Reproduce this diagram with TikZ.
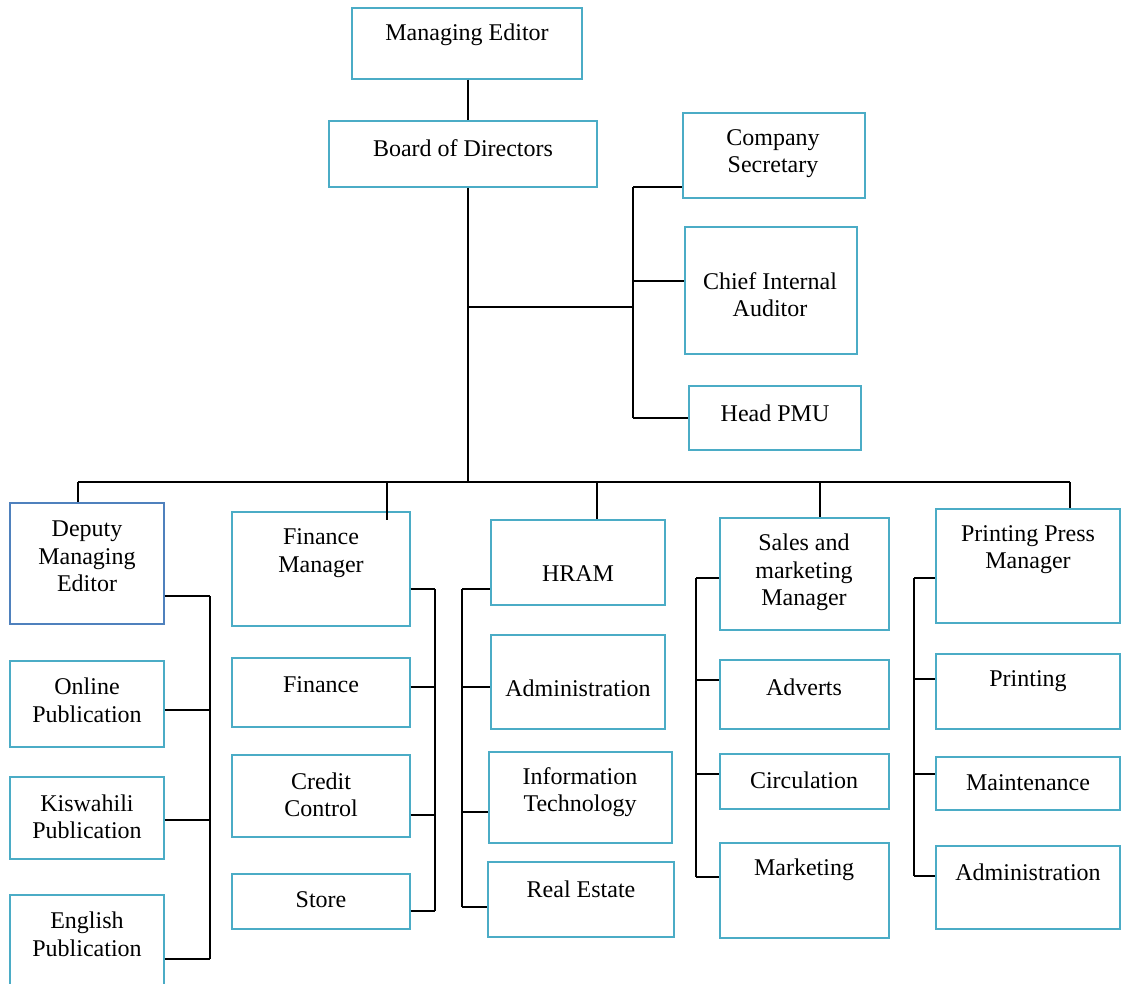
\documentclass[tikz,border=0pt]{standalone}
\usepackage{fontspec}
\setmainfont{Liberation Serif}
\definecolor{boxblue}{RGB}{75,172,198}
\definecolor{deepblue}{RGB}{79,129,189}
\tikzset{
  x=1pt,y=-1pt,
  bx/.style={draw=boxblue,line width=1.3pt,inner sep=0pt,fill=white},
  dbx/.style={bx,draw=deepblue},
  txt/.style={align=center,inner sep=0pt,font=\fontsize{24}{27.5}\selectfont},
  conn/.style={draw=black,line width=1.7pt}
}
\begin{document}
\begin{tikzpicture}
\clip (0,0) rectangle (1121,984);
\fill[white] (0,0) rectangle (1121,984);
% ---- boxes
\node[bx,minimum width=230pt,minimum height=71pt] (me) at (467,43.5) {};
\node[bx,minimum width=268pt,minimum height=66pt] (bod) at (463,154) {};
\node[bx,minimum width=182pt,minimum height=85pt] (cs) at (774,155.5) {};
\node[bx,minimum width=172pt,minimum height=127pt] (cia) at (771,290.5) {};
\node[bx,minimum width=172pt,minimum height=64pt] (pmu) at (775,418) {};
\node[dbx,minimum width=154pt,minimum height=121pt] (dme) at (87,563.5) {};
\node[bx,minimum width=154pt,minimum height=86pt] (onl) at (87,704) {};
\node[bx,minimum width=154pt,minimum height=82pt] (kis) at (87,818) {};
\node[bx,minimum width=154pt,minimum height=110pt] (eng) at (87,950) {};
\node[bx,minimum width=178pt,minimum height=114pt] (fm) at (321,569) {};
\node[bx,minimum width=178pt,minimum height=69pt] (fin) at (321,692.5) {};
\node[bx,minimum width=178pt,minimum height=82pt] (cc) at (321,796) {};
\node[bx,minimum width=178pt,minimum height=55pt] (st) at (321,901.5) {};
\node[bx,minimum width=174pt,minimum height=85pt] (hr) at (578,562.5) {};
\node[bx,minimum width=174pt,minimum height=94pt] (adm) at (578,682) {};
\node[bx,minimum width=183pt,minimum height=91pt] (it) at (580.5,797.5) {};
\node[bx,minimum width=186pt,minimum height=75pt] (re) at (581,899.5) {};
\node[bx,minimum width=169pt,minimum height=112pt] (smm) at (804.5,574) {};
\node[bx,minimum width=169pt,minimum height=69pt] (adv) at (804.5,694.5) {};
\node[bx,minimum width=169pt,minimum height=55pt] (cir) at (804.5,781.5) {};
\node[bx,minimum width=169pt,minimum height=95pt] (mkt) at (804.5,890.5) {};
\node[bx,minimum width=184pt,minimum height=114pt] (ppm) at (1028,566) {};
\node[bx,minimum width=184pt,minimum height=75pt] (prt) at (1028,691.5) {};
\node[bx,minimum width=184pt,minimum height=53pt] (mnt) at (1028,783.5) {};
\node[bx,minimum width=184pt,minimum height=83pt] (adm2) at (1028,887.5) {};
% ---- texts
\node[txt] (me-t) at (467,35) {Managing Editor};
\node[txt] (bod-t) at (463,148) {Board of Directors};
\node[txt] (cs-t) at (773,153.5) {Company\\Secretary};
\node[txt] (cia-t) at (770,294.5) {Chief Internal\\Auditor};
\node[txt] (pmu-t) at (775,413) {Head PMU};
\node[txt] (dme-t) at (87,556.5) {Deputy\\Managing\\Editor};
\node[txt] (onl-t) at (87,700.5) {Online\\Publication};
\node[txt] (kis-t) at (87,817) {Kiswahili\\Publication};
\node[txt] (eng-t) at (87,934.5) {English\\Publication};
\node[txt] (fm-t) at (321,553) {Finance\\Manager};
\node[txt] (fin-t) at (321,685) {Finance};
\node[txt] (cc-t) at (321,795) {Credit\\Control};
\node[txt] (st-t) at (321,900) {Store};
\node[txt] (hr-t) at (578,574) {HRAM};
\node[txt] (adm-t) at (578,688) {Administration};
\node[txt] (it-t) at (580,792) {Information\\Technology};
\node[txt] (re-t) at (581,889) {Real Estate};
\node[txt] (smm-t) at (804,572.5) {Sales and\\marketing\\Manager};
\node[txt] (adv-t) at (804,687) {Adverts};
\node[txt] (cir-t) at (804,780) {Circulation};
\node[txt] (mkt-t) at (804,870) {Marketing};
\node[txt] (ppm-t) at (1028,549.5) {Printing Press\\Manager};
\node[txt] (prt-t) at (1028,681) {Printing};
\node[txt] (mnt-t) at (1028,783) {Maintenance};
\node[txt] (adm2-t) at (1028,872) {Administration};
% ---- junction coordinates
\coordinate (a) at (468,307);
\coordinate (b) at (633,307);
\coordinate (bus) at (468,482);
\coordinate (r1) at (633,187);
\coordinate (r2) at (633,281);
\coordinate (r3) at (633,418);
\coordinate (bl) at (78,482);
\coordinate (br) at (1070,482);
\coordinate (d2) at (387,482);
\coordinate (d2e) at (387,520);
\coordinate (d3) at (597,482);
\coordinate (d4) at (820,482);
\coordinate (k1) at (210,596);
\coordinate (k2) at (210,710);
\coordinate (k3) at (210,820);
\coordinate (k4) at (210,959);
\coordinate (f1) at (435,589);
\coordinate (f2) at (435,687);
\coordinate (f3) at (435,815);
\coordinate (f4) at (435,911);
\coordinate (h1) at (462,589);
\coordinate (h2) at (462,687);
\coordinate (h3) at (462,812);
\coordinate (h4) at (462,907);
\coordinate (s1) at (696,578);
\coordinate (s2) at (696,680);
\coordinate (s3) at (696,774);
\coordinate (s4) at (696,877);
\coordinate (p1) at (914,578);
\coordinate (p2) at (914,679);
\coordinate (p3) at (914,774);
\coordinate (p4) at (914,876);
% ---- connectors
\begin{scope}[conn]
\draw (me.south -| a) -- (bod.north -| a);
\draw (bod.south -| a) -- (bus);
\draw (a) -- (b);
\draw (r1) -- (r3);
\draw (r1) -- (r1 -| cs.west);
\draw (r2) -- (r2 -| cia.west);
\draw (r3) -- (r3 -| pmu.west);
\draw (bl) -- (br);
\draw (bl) -- (bl |- dme.north);
\draw (d2) -- (d2e);
\draw (d3) -- (d3 |- hr.north);
\draw (d4) -- (d4 |- smm.north);
\draw (br) -- (br |- ppm.north);
\draw (k1) -- (k4);
\draw (k1 -| dme.east) -- (k1);
\draw (k2 -| onl.east) -- (k2);
\draw (k3 -| kis.east) -- (k3);
\draw (k4 -| eng.east) -- (k4);
\draw (f1) -- (f4);
\draw (f1 -| fm.east) -- (f1);
\draw (f2 -| fin.east) -- (f2);
\draw (f3 -| cc.east) -- (f3);
\draw (f4 -| st.east) -- (f4);
\draw (h1) -- (h4);
\draw (h1) -- (h1 -| hr.west);
\draw (h2) -- (h2 -| adm.west);
\draw (h3) -- (h3 -| it.west);
\draw (h4) -- (h4 -| re.west);
\draw (s1) -- (s4);
\draw (s1) -- (s1 -| smm.west);
\draw (s2) -- (s2 -| adv.west);
\draw (s3) -- (s3 -| cir.west);
\draw (s4) -- (s4 -| mkt.west);
\draw (p1) -- (p4);
\draw (p1) -- (p1 -| ppm.west);
\draw (p2) -- (p2 -| prt.west);
\draw (p3) -- (p3 -| mnt.west);
\draw (p4) -- (p4 -| adm2.west);
\end{scope}
\end{tikzpicture}
\end{document}
